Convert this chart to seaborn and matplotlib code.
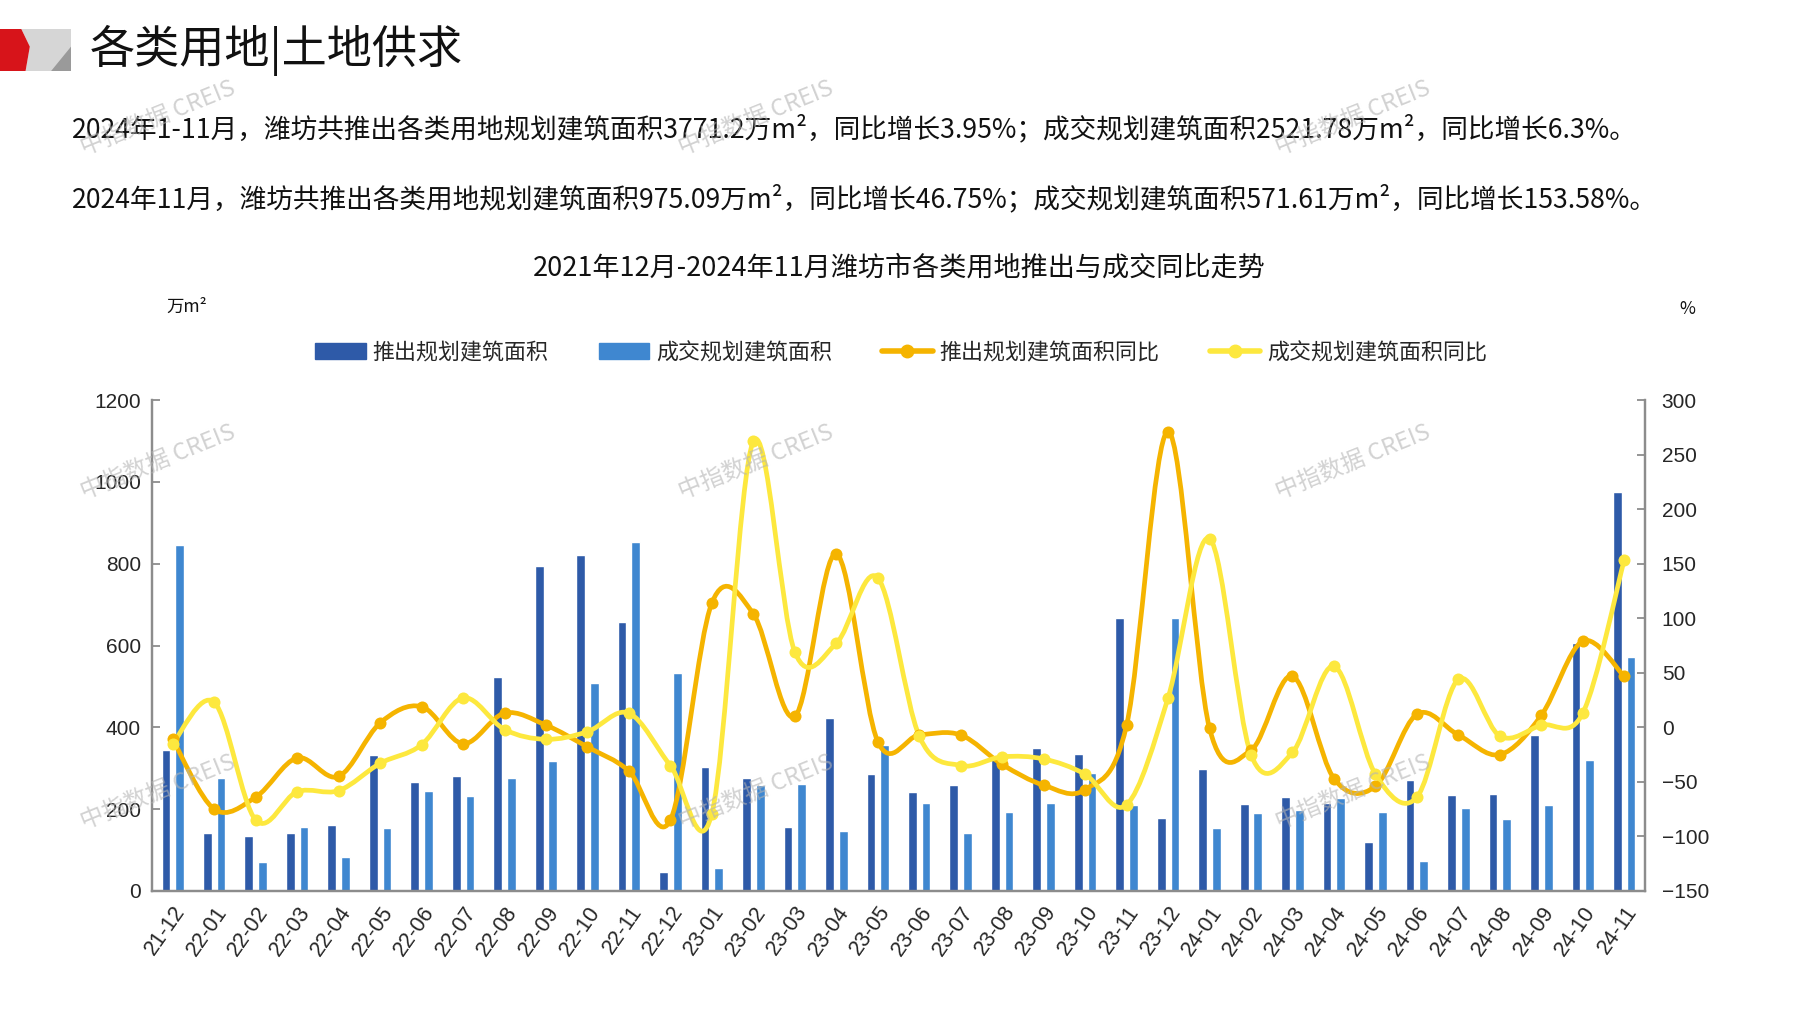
import numpy as np
import pandas as pd
import matplotlib
matplotlib.use('Agg')
import matplotlib.pyplot as plt
import seaborn as sns
from matplotlib.path import Path
from matplotlib.patches import PathPatch, Polygon, Patch
from matplotlib.lines import Line2D

months = ['21-12', '22-01', '22-02', '22-03', '22-04', '22-05', '22-06', '22-07', '22-08', '22-09',
          '22-10', '22-11', '22-12', '23-01', '23-02', '23-03', '23-04', '23-05', '23-06', '23-07',
          '23-08', '23-09', '23-10', '23-11', '23-12', '24-01', '24-02', '24-03', '24-04', '24-05',
          '24-06', '24-07', '24-08', '24-09', '24-10', '24-11']

supply_area = [345, 142, 134, 142, 162, 332, 266, 281, 524, 795,
               821, 657, 46, 304, 277, 157, 424, 286, 243, 258,
               323, 349, 336, 666, 179, 299, 212, 230, 216, 120,
               271, 234, 238, 382, 607, 975.09]
deal_area = [845, 277, 70, 157, 83, 153, 245, 231, 277, 317,
             509, 853, 533, 57, 258, 262, 147, 358, 216, 142,
             192, 216, 288, 210, 666, 153, 190, 198, 227, 192,
             74, 203, 175, 211, 321, 571.61]
supply_yoy = [-11, -75, -64, -28, -45, 4, 19, -15, 13, 2,
              -18, -40, -85, 114, 104, 10, 159, -13, -7, -7,
              -34, -53, -57, 2, 271, -1, -21, 47, -47, -54,
              12, -7, -25, 11, 79, 46.75]
deal_yoy = [-15, 23, -85, -59, -58, -33, -16, 27, -2, -11,
            -4, 13, -35, -79, 262, 69, 77, 137, -8, -35,
            -27, -29, -43, -71, 27, 173, -25, -23, 56, -43,
            -64, 44, -8, 2, 13, 153.58]

bar_names = ['推出规划建筑面积', '成交规划建筑面积']
line_names = ['推出规划建筑面积同比', '成交规划建筑面积同比']
dark_blue, light_blue = '#2E5AA8', '#3F87D0'
orange, yellow = '#F5B400', '#FDE83E'

sns.set_theme(style='white')
plt.rcParams['font.family'] = ['Noto Sans CJK SC', 'DejaVu Sans']
num_font = ['Liberation Sans', 'DejaVu Sans']

W, H = 1797, 1010
fig = plt.figure(figsize=(W / 100, H / 100), dpi=100)


def fx(px):
    return px / W


def fy(py):
    return 1 - py / H


# header logo
lax = fig.add_axes([0, fy(71), fx(71), 42 / H])
lax.set_xlim(0, 1)
lax.set_ylim(0, 1)
lax.axis('off')
lax.add_patch(Polygon([(0.30, 1), (1, 1), (1, 0), (0.36, 0), (0.42, 0.58)], closed=True, color='#D6D6D6', lw=0))
lax.add_patch(Polygon([(0.72, 0), (1, 0.58), (1, 0)], closed=True, color='#9A9A9A', lw=0))
lax.add_patch(Polygon([(0, 1), (0.30, 1), (0.42, 0.58), (0.36, 0), (0, 0)], closed=True, color='#D7141A', lw=0))

fig.text(fx(90), fy(50), '各类用地|土地供求', fontsize=32.5, va='center', ha='left', color='#111111')
fig.text(fx(72), fy(129),
         '2024年1-11月，潍坊共推出各类用地规划建筑面积3771.2万m²，同比增长3.95%；成交规划建筑面积2521.78万m²，同比增长6.3%。',
         fontsize=19.2, va='center', ha='left', color='#111111')
fig.text(fx(72), fy(199),
         '2024年11月，潍坊共推出各类用地规划建筑面积975.09万m²，同比增长46.75%；成交规划建筑面积571.61万m²，同比增长153.58%。',
         fontsize=19.2, va='center', ha='left', color='#111111')
fig.text(fx(899), fy(268), '2021年12月-2024年11月潍坊市各类用地推出与成交同比走势',
         fontsize=19.5, va='center', ha='center', color='#111111')
fig.text(fx(166), fy(307), '万m²', fontsize=12.5, va='center', ha='left', color='#111111')
fig.text(fx(1687), fy(309), '%', fontsize=12.5, va='center', ha='center', color='#111111')

# main axes
ax = fig.add_axes([fx(152), fy(891), fx(1645) - fx(152), (891 - 400) / H])
df = pd.DataFrame({
    'month': months * 2,
    'kind': [bar_names[0]] * len(months) + [bar_names[1]] * len(months),
    'value': supply_area + deal_area,
})
sns.barplot(data=df, x='month', y='value', hue='kind', hue_order=bar_names,
            palette=[dark_blue, light_blue], saturation=1, width=0.66, gap=0.36,
            legend=False, ax=ax, zorder=2)
ax.set_xlim(-0.5, len(months) - 0.5)
ax.set_ylim(0, 1200)
ax.set_yticks(range(0, 1201, 200))
ax.set_xlabel('')
ax.set_ylabel('')

ax2 = ax.twinx()
ax2.set_ylim(-150, 300)
ax2.set_yticks(range(-150, 301, 50))


def smooth_path(xs, ys, t=1 / 6):
    pts = np.column_stack([xs, ys]).astype(float)
    n = len(pts)
    verts = [pts[0]]
    codes = [Path.MOVETO]
    for i in range(n - 1):
        p0 = pts[i - 1] if i > 0 else pts[i]
        p1 = pts[i]
        p2 = pts[i + 1]
        p3 = pts[i + 2] if i + 2 < n else pts[i + 1]
        c1 = p1 + (p2 - p0) * t
        c2 = p2 - (p3 - p1) * t
        verts += [c1, c2, p2]
        codes += [Path.CURVE4] * 3
    return Path(verts, codes)


xpos = np.arange(len(months))
for vals, col in [(supply_yoy, orange), (deal_yoy, yellow)]:
    ax2.add_patch(PathPatch(smooth_path(xpos, vals), facecolor='none', edgecolor=col,
                            lw=3.4, capstyle='round', joinstyle='round', zorder=3))
    sns.scatterplot(x=xpos, y=vals, color=col, s=75, edgecolor=col, linewidth=0, ax=ax2, zorder=4)
ax2.set_xlim(-0.5, len(months) - 0.5)

# axes styling
for a in (ax, ax2):
    a.spines['top'].set_visible(False)
    for s in ['left', 'right', 'bottom']:
        a.spines[s].set_color('#8C8C8C')
        a.spines[s].set_linewidth(1.6)
    a.grid(False)

ax.set_xticks(xpos)
ax.set_xticklabels(months, rotation=55, ha='right', rotation_mode='anchor', fontsize=15.5, family=num_font)
ax.set_xticks(np.arange(-0.5, len(months), 1), minor=True)
ax.tick_params(axis='x', which='major', length=0, pad=8)
ax.tick_params(axis='x', which='minor', length=6, direction='in', color='#8C8C8C', width=1.3)
ax.tick_params(axis='y', length=6, direction='in', color='#8C8C8C', width=1.3, left=True, pad=8)
for lab in ax.get_yticklabels():
    lab.set_fontsize(15)
    lab.set_family(num_font)
ax2.tick_params(axis='y', length=6, direction='in', color='#8C8C8C', width=1.3, right=True, pad=12)
for lab in ax2.get_yticklabels():
    lab.set_fontsize(15)
    lab.set_family(num_font)

# legend
handles = [Patch(color=dark_blue), Patch(color=light_blue),
           Line2D([], [], color=orange, lw=4, marker='o', markersize=9),
           Line2D([], [], color=yellow, lw=4, marker='o', markersize=9)]
fig.legend(handles, bar_names + line_names, loc='center', bbox_to_anchor=(fx(901), fy(353)),
           ncol=4, frameon=False, fontsize=15.8, handlelength=2.3, handleheight=0.75,
           handletextpad=0.3, columnspacing=2.3)

# watermarks
for wx in (158, 756, 1353):
    for wy in (118, 462, 792):
        fig.text(fx(wx), fy(wy), '中指数据 CREIS', fontsize=17, rotation=22, color='#B4B4B4',
                 alpha=0.6, ha='center', va='center', zorder=10)

fig.savefig('out.png', dpi=100, facecolor='white')
